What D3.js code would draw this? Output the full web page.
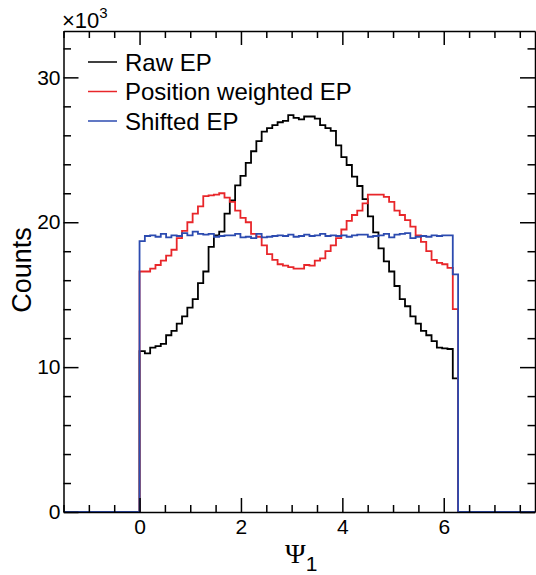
<!DOCTYPE html>
<html>
<head>
<meta charset="utf-8">
<script src="https://cdn.jsdelivr.net/npm/d3@7"></script>
<style>
  body { margin: 0; background: #fff; }
  text { font-family: "Liberation Sans", Arial, sans-serif; }
</style>
</head>
<body>
<svg width="536" height="575"></svg>
<script>
// histogram range: 60 bins over [0, 2pi]
const nBins = 60;
const histMin = 0, histMax = 2 * Math.PI;

// bin contents, x10^3
const rawEP = [
  11.1, 10.95, 11.35, 11.45, 11.6, 12.2, 12.5, 13.0, 13.5, 14.1,
  14.7, 15.8, 16.6, 18.3, 19.1, 19.35, 20.6, 21.5, 22.55, 23.2,
  24.1, 24.9, 25.6, 26.25, 26.5, 26.7, 26.9, 27.0, 27.4, 27.2,
  27.1, 27.3, 27.3, 27.15, 26.7, 26.5, 26.3, 25.3, 24.5, 23.95,
  23.15, 22.5, 21.6, 20.4, 19.3, 18.2, 17.3, 16.6, 15.6, 14.7,
  14.2, 13.5, 13.0, 12.5, 12.2, 11.8, 11.35, 11.3, 11.25, 9.23
];
const posWeightedEP = [
  16.6, 16.6, 16.8, 17.05, 17.35, 17.7, 18.1, 18.9, 19.4, 20.0,
  20.6, 21.1, 21.8, 21.85, 21.9, 22.0, 21.7, 21.4, 20.8, 20.3,
  20.0, 19.2, 19.0, 18.4, 17.8, 17.4, 17.1, 17.0, 16.9, 16.8,
  16.8, 17.05, 17.0, 17.35, 17.5, 18.0, 18.4, 18.9, 19.5, 20.1,
  20.5, 20.8, 21.3, 21.9, 21.9, 21.9, 21.75, 21.4, 20.8, 20.5,
  20.15, 19.7, 19.1, 18.65, 18.0, 17.4, 17.2, 17.1, 16.85, 14.0
];
const shiftedEP = [
  18.7, 19.05, 19.1, 19.0, 19.2, 18.95, 19.1, 19.05, 19.25, 19.1,
  19.35, 19.2, 19.15, 19.2, 19.0, 19.05, 19.1, 19.1, 19.2, 18.95,
  19.0, 18.9, 19.2, 18.95, 19.0, 19.05, 19.1, 19.05, 19.15, 19.0,
  19.05, 19.15, 19.05, 19.1, 19.2, 19.05, 19.1, 19.05, 19.1, 19.0,
  19.1, 19.15, 19.15, 19.0, 19.05, 19.1, 19.2, 18.95, 19.15, 19.2,
  19.25, 18.9, 19.0, 19.05, 19.0, 19.1, 19.05, 19.1, 19.1, 16.4
];

const seriesNames = ["Raw EP", "Position weighted EP", "Shifted EP"];
const seriesColors = ["#000000", "#e8262a", "#2c4bb0"];

const xTicks = [0, 2, 4, 6];
const yTicks = [0, 10, 20, 30];

const svg = d3.select("svg");
const padL = 63.5, padR = 535, padT = 31, padB = 512;

const x = d3.scaleLinear().domain([-1.5, 7.8]).range([padL, padR]);
const y = d3.scaleLinear().domain([0, 33.2]).range([padB, padT]);

const edges = d3.range(nBins + 1).map(i => histMin + (histMax - histMin) * i / nBins);

function histPoints(vals) {
  const pts = [[x.domain()[0], 0], [histMin, 0]];
  vals.forEach((v, i) => {
    pts.push([edges[i], v], [edges[i + 1], v]);
  });
  pts.push([histMax, 0], [x.domain()[1], 0]);
  return pts;
}

const line = d3.line().x(d => x(d[0])).y(d => y(d[1]));

svg.append("clipPath").attr("id", "clip")
  .append("rect").attr("x", padL).attr("y", padT)
  .attr("width", padR - padL).attr("height", padB - padT);

const plot = svg.append("g").attr("clip-path", "url(#clip)");
[rawEP, posWeightedEP, shiftedEP].forEach((vals, k) => {
  plot.append("path")
    .attr("d", line(histPoints(vals)))
    .attr("fill", "none")
    .attr("stroke", seriesColors[k])
    .attr("stroke-width", 1.8);
});

// minor tick values
const xMinor = d3.range(-1.5, 7.8, 0.5).filter(v => Math.abs(v % 2) > 1e-6);
const yMinor = d3.range(0, 33.2, 2).filter(v => v % 10 !== 0);

function styleAxis(g) {
  g.selectAll("path, line").attr("stroke", "#000").attr("stroke-width", 1.5);
  g.selectAll("text").attr("font-size", 21).attr("fill", "#000")
    .attr("font-family", '"Liberation Sans", Arial, sans-serif');
}

// bottom
svg.append("g").attr("transform", `translate(0,${padB})`)
  .call(d3.axisBottom(x).tickValues(xMinor).tickSize(-7).tickSizeOuter(0).tickFormat(""))
  .call(styleAxis);
svg.append("g").attr("transform", `translate(0,${padB})`)
  .call(d3.axisBottom(x).tickValues(xTicks).tickSize(-14).tickSizeOuter(0).tickPadding(7).tickFormat(d3.format("d")))
  .call(styleAxis).call(g => g.select(".domain").remove());
// top
svg.append("g").attr("transform", `translate(0,${padT})`)
  .call(d3.axisTop(x).tickValues(xMinor).tickSize(-7).tickSizeOuter(0).tickFormat(""))
  .call(styleAxis);
svg.append("g").attr("transform", `translate(0,${padT})`)
  .call(d3.axisTop(x).tickValues(xTicks).tickSize(-14).tickSizeOuter(0).tickFormat(""))
  .call(styleAxis).call(g => g.select(".domain").remove());
// left
svg.append("g").attr("transform", `translate(${padL},0)`)
  .call(d3.axisLeft(y).tickValues(yMinor).tickSize(-7.5).tickSizeOuter(0).tickFormat(""))
  .call(styleAxis);
svg.append("g").attr("transform", `translate(${padL},0)`)
  .call(d3.axisLeft(y).tickValues(yTicks).tickSize(-15).tickSizeOuter(0).tickPadding(3).tickFormat(d3.format("d")))
  .call(styleAxis).call(g => g.select(".domain").remove());
// right
svg.append("g").attr("transform", `translate(${padR},0)`)
  .call(d3.axisRight(y).tickValues(yMinor).tickSize(-7.5).tickSizeOuter(0).tickFormat(""))
  .call(styleAxis);
svg.append("g").attr("transform", `translate(${padR},0)`)
  .call(d3.axisRight(y).tickValues(yTicks).tickSize(-15).tickSizeOuter(0).tickFormat(""))
  .call(styleAxis).call(g => g.select(".domain").remove());

// exponent label
const expo = svg.append("text").attr("x", 62).attr("y", 28).attr("font-size", 22);
expo.append("tspan").text("×10");
expo.append("tspan").attr("dy", -10).attr("font-size", 15).text("3");

// axis titles
svg.append("text")
  .attr("transform", `translate(31,270) rotate(-90)`)
  .attr("text-anchor", "middle").attr("font-size", 27).text("Counts");
const xt = svg.append("text").attr("x", 285).attr("y", 563);
xt.append("tspan").attr("font-family", '"Liberation Serif", "Times New Roman", serif')
  .attr("font-size", 28).text("Ψ");
xt.append("tspan").attr("dy", 8).attr("font-size", 21).text("1");

// legend
const legend = svg.append("g");
seriesNames.forEach((name, k) => {
  const ly = 62 + k * 29.5;
  legend.append("line").attr("x1", 88).attr("x2", 117).attr("y1", ly).attr("y2", ly)
    .attr("stroke", seriesColors[k]).attr("stroke-width", 1.5);
  legend.append("text").attr("x", 125).attr("y", ly).attr("dy", "0.36em")
    .attr("font-size", 24).text(name);
});
</script>
</body>
</html>
